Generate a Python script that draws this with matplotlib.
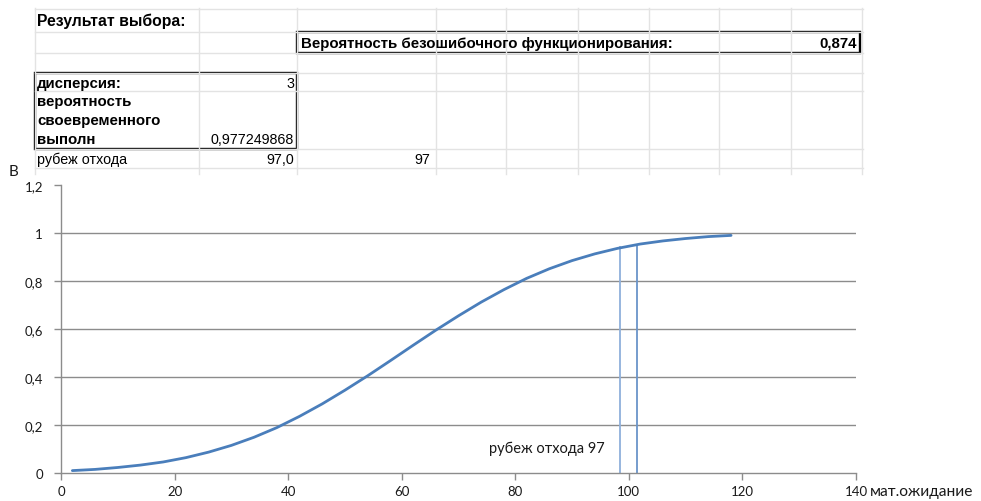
import matplotlib
matplotlib.use("Agg")
import matplotlib.pyplot as plt
from matplotlib.lines import Line2D
from matplotlib.patches import Rectangle

# --- data -------------------------------------------------------------
mean_x = [2, 6, 10, 14, 18, 22, 26, 30, 34, 38, 42, 46, 50, 54, 58,
          62, 66, 70, 74, 78, 82, 86, 90, 94, 98, 102, 106, 110, 114, 118]
prob_y = [0.010, 0.015, 0.023, 0.033, 0.046, 0.064, 0.087, 0.115, 0.149, 0.189,
          0.236, 0.288, 0.345, 0.405, 0.468, 0.532, 0.595, 0.655, 0.712, 0.764,
          0.811, 0.851, 0.885, 0.913, 0.936, 0.954, 0.967, 0.977, 0.985, 0.990]

cut_x = [98.4, 101.4]          # vertical markers around the cutoff
cut_top = [0.940, 0.950]       # where the markers meet the curve

x_ticks = [0, 20, 40, 60, 80, 100, 120, 140]
x_ticklabels = ["0", "20", "40", "60", "80", "100", "120", "140"]
y_ticks = [0, 0.2, 0.4, 0.6, 0.8, 1.0, 1.2]
y_ticklabels = ["0", "0,2", "0,4", "0,6", "0,8", "1", "1,2"]

# sheet cells above the chart
col_edges = [35, 199, 297, 436, 506, 578, 649, 719, 791, 862]
row_edges = [10, 33, 54, 74, 92, 150, 169]

W, H = 981, 502
fig = plt.figure(figsize=(W / 100, H / 100), dpi=100)
fig.patch.set_facecolor("white")

# overlay in pixel coordinates for the spreadsheet part
ov = fig.add_axes([0, 0, 1, 1])
ov.set_xlim(0, W)
ov.set_ylim(H, 0)
ov.axis("off")

grid_c = "#e3e3e3"
for cx in col_edges:
    ov.add_line(Line2D([cx, cx], [9, 175], color=grid_c, lw=1.0))
for ry in row_edges:
    ov.add_line(Line2D([35, 863], [ry, ry], color=grid_c, lw=1.0))

# bordered blocks
ov.add_patch(Rectangle((297, 33), 563, 21, fill=False, ec="black", lw=1.7))
ov.add_patch(Rectangle((35, 74), 262, 76, fill=False, ec="black", lw=1.7))

fam = ["Liberation Sans", "DejaVu Sans"]
bold = dict(family=fam, fontsize=10.8, fontweight="bold", color="black", va="center")
reg = dict(family=fam, fontsize=10.3, color="black", va="center")

ov.text(37, 21, "Результат выбора:", ha="left", **{**bold, "fontsize": 11.3})
ov.text(301, 44, "Вероятность безошибочного функционирования:", ha="left", **bold)
ov.text(857, 44, "0,874", ha="right", **bold)
ov.text(37, 84, "дисперсия:", ha="left", **bold)
ov.text(294, 84, "3", ha="right", **reg)
ov.text(37, 102, "вероятность", ha="left", **bold)
ov.text(37, 121, "своевременного", ha="left", **bold)
ov.text(37, 140, "выполн", ha="left", **bold)
ov.text(294, 140, "0,977249868", ha="right", **reg)
ov.text(37, 160, "рубеж отхода", ha="left", **reg)
ov.text(294, 160, "97,0", ha="right", **reg)
ov.text(430, 160, "97", ha="right", **reg)

# white chart area covering the sheet below
ov.add_patch(Rectangle((36, 176), 945, 326, color="white", zorder=0.5))

# --- chart ----------------------------------------------------------------
x0, x1 = 61, 856
y0, y1 = 474, 186
ax = fig.add_axes([x0 / W, (H - y0) / H, (x1 - x0) / W, (y0 - y1) / H])
ax.set_facecolor("none")
ax.set_xlim(0, 140)
ax.set_ylim(0, 1.2)

axis_c = "#8c8c8c"
for s in ("top", "right"):
    ax.spines[s].set_visible(False)
for s in ("left", "bottom"):
    ax.spines[s].set_color(axis_c)
    ax.spines[s].set_linewidth(1.0)

for yv in y_ticks[1:-1]:
    ax.axhline(yv, color="#8c8c8c", lw=1.0, zorder=1)

ax.set_xticks(x_ticks)
ax.set_xticklabels(x_ticklabels)
ax.set_yticks(y_ticks)
ax.set_yticklabels(y_ticklabels)
tick_font = ["Lato", "DejaVu Sans"]
ax.tick_params(axis="both", direction="out", length=5, width=1.0, color=axis_c,
               labelsize=9.5, labelcolor="#1a1a1a")
ax.tick_params(axis="y", pad=8)
ax.tick_params(axis="x", pad=4)
for lab in ax.get_xticklabels() + ax.get_yticklabels():
    lab.set_family(tick_font)

ax.plot(mean_x, prob_y, color="#4a7ebb", lw=2.0, solid_capstyle="round", zorder=3)

ax.plot([cut_x[0], cut_x[0]], [0, cut_top[0]], color="#8fb0db", lw=1.3, zorder=2)
ax.plot([cut_x[1], cut_x[1]], [0, cut_top[1]], color="#6a94c9", lw=1.3, zorder=2)

ax.text(75.3, 0.105, "рубеж отхода 97", family=tick_font, fontsize=10.5,
        ha="left", va="center", color="#1a1a1a")

fig.text(14 / W, 1 - 172 / H, "B", family=tick_font, fontsize=11,
         ha="center", va="center", color="#1a1a1a")
fig.text(870 / W, 1 - 492 / H, "мат.ожидание", family=tick_font, fontsize=11.2,
         ha="left", va="center", color="#1a1a1a")

fig.savefig("out.png", dpi=100, facecolor="white")
